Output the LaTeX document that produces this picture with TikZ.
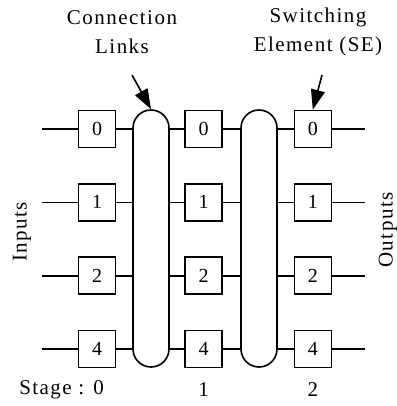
\documentclass[tikz,border=0pt]{standalone}
\usepackage{fontspec}
\setmainfont[LetterSpace=7]{Liberation Serif}
\usetikzlibrary{arrows.meta,calc}
\tikzset{
  sebox/.style  ={draw=black, line width=1.6pt, minimum size=37pt, inner sep=0pt,
                  font=\fontsize{20}{20}\selectfont},
  link/.style   ={draw=black, line width=1.6pt, minimum width=36pt, minimum height=257pt,
                  rounded corners=18pt, inner sep=0pt},
  wire/.style   ={draw=black, line width=1.6pt},
  lbl/.style    ={font=\fontsize{21}{29}\selectfont, align=center, inner sep=0pt},
  ptr/.style    ={-{Triangle[length=20pt,width=14pt]}, draw=black, line width=1.6pt},
}

\begin{document}
\begin{tikzpicture}[x=1pt, y=-1pt]
\useasboundingbox (0,0) rectangle (396,406);
% connection links
\node[link] (L1) at (151,238.5) {};
\node[link] (L2) at (259,238.5) {};
% switching elements, one row at a time
\foreach \d/\y in {0/129, 1/202.3, 2/275.7, 4/349} {
  \node[sebox] (a\d) at (97,\y)    {\d};
  \node[sebox] (b\d) at (203.5,\y) {\d};
  \node[sebox] (c\d) at (312.8,\y) {\d};
  \coordinate (in\d)  at (42,\y);
  \coordinate (out\d) at (365,\y);
  \draw[wire] (in\d) -- (a\d.west);
  \draw[wire] (a\d.east) -- (a\d.east -| L1.west);
  \draw[wire] (L1.east |- b\d.west) -- (b\d.west);
  \draw[wire] (b\d.east) -- (b\d.east -| L2.west);
  \draw[wire] (L2.east |- c\d.west) -- (c\d.west);
  \draw[wire] (c\d.east) -- (out\d);
}
% labels
\node[lbl] (conn) at (122,32) {Connection\\Links};
\node[lbl] (se)   at (318,32) {Switching\\Element (SE)};
\coordinate (p1) at (132,75);
\coordinate (p2) at (322,75);
\draw[ptr] (p1) -- (L1.north);
\draw[ptr] (p2) -- (c0.north);
\node[lbl, rotate=90] (ins)  at (22,232)  {Inputs};
\node[lbl, rotate=90] (outs) at (388,230) {Outputs};
\node[lbl, anchor=east] (st0) at (104,390) {Stage : 0};
\node[lbl] (st1) at (203.5,390) {1};
\node[lbl] (st2) at (312.8,390) {2};
\end{tikzpicture}
\end{document}
